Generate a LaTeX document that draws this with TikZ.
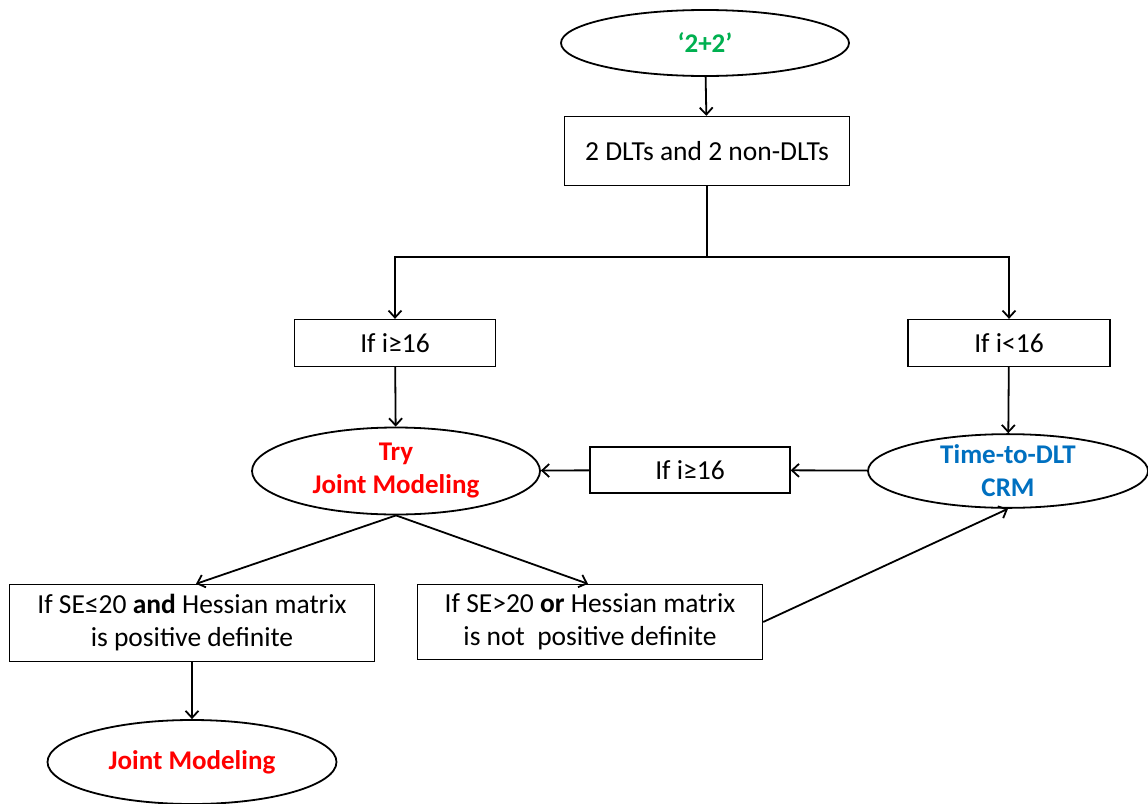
\documentclass[tikz,border=0pt]{standalone}
\usepackage{fontspec}
\setmainfont{Carlito}
\usetikzlibrary{shapes.geometric,arrows.meta}

\definecolor{ofgreen}{RGB}{0,176,80}
\definecolor{ofblue}{RGB}{0,112,192}
\tikzset{
  box/.style={draw, line width=1.3pt, inner sep=0pt, align=center},
  oval/.style={draw, ellipse, line width=1.8pt, inner sep=0pt, align=center,
    font=\fontsize{27}{33}\selectfont\bfseries},
  arr/.style={-{Straight Barb[length=7pt,width=13pt]}, line width=1.8pt},
  conn/.style={line width=1.8pt}
}

\begin{document}
\begin{tikzpicture}[x=1pt, y=-1pt, font=\fontsize{27.5}{33}\selectfont]
    \useasboundingbox (0,0) rectangle (1148,803);
    \node [oval, minimum width=288pt, minimum height=66pt, text=ofgreen] (start) at (705,43) {`2+2'};
    \node [box, minimum width=285pt, minimum height=69pt] (plan) at (707,151) {2 DLTs and 2 non-DLTs};
    \node [box, minimum width=201pt, minimum height=47pt] (lif) at (395,343) {If i≥16};
    \node [box, minimum width=202pt, minimum height=47pt] (rif) at (1009,343) {If i<16};
    \node [oval, minimum width=288pt, minimum height=87pt, text=red] (try) at (396,471) {Try\\Joint Modeling};
    \node [box, minimum width=200pt, minimum height=46pt] (mif) at (690,470) {If i≥16};
    \node [oval, minimum width=280pt, minimum height=73pt, text=ofblue] (crm) at (1008,471) {Time-to-DLT\\CRM};
    \node [box, minimum width=365pt, minimum height=77pt] (lbox) at (192,623) {If SE≤20 \textbf{and} Hessian matrix\\is positive definite};
    \node [box, minimum width=345pt, minimum height=75pt] (rbox) at (590,622) {If SE>20 \textbf{or} Hessian matrix\\is not\ \ positive definite};
    \node [oval, minimum width=289pt, minimum height=84pt, text=red] (joint) at (192,762) {Joint Modeling};

    \draw [arr] (start) -- (plan);
    \draw [conn] (plan.south) -- ++(0,71) coordinate (split);
    \draw [arr] (split) -| (lif.north);
    \draw [arr] (split) -| (rif.north);
    \draw [arr] (lif) -- (try);
    \draw [arr] (rif) -- (crm);
    \draw [arr] (crm) -- (mif);
    \draw [arr] (mif) -- (try);
    \draw [arr] (try.south) -- ([xshift=4pt]lbox.north);
    \draw [arr] (try.south) -- ([xshift=-2pt]rbox.north);
    \draw [arr] (rbox.east) -- (crm.south);
    \draw [arr] (lbox) -- (joint);
\end{tikzpicture}
\end{document}
